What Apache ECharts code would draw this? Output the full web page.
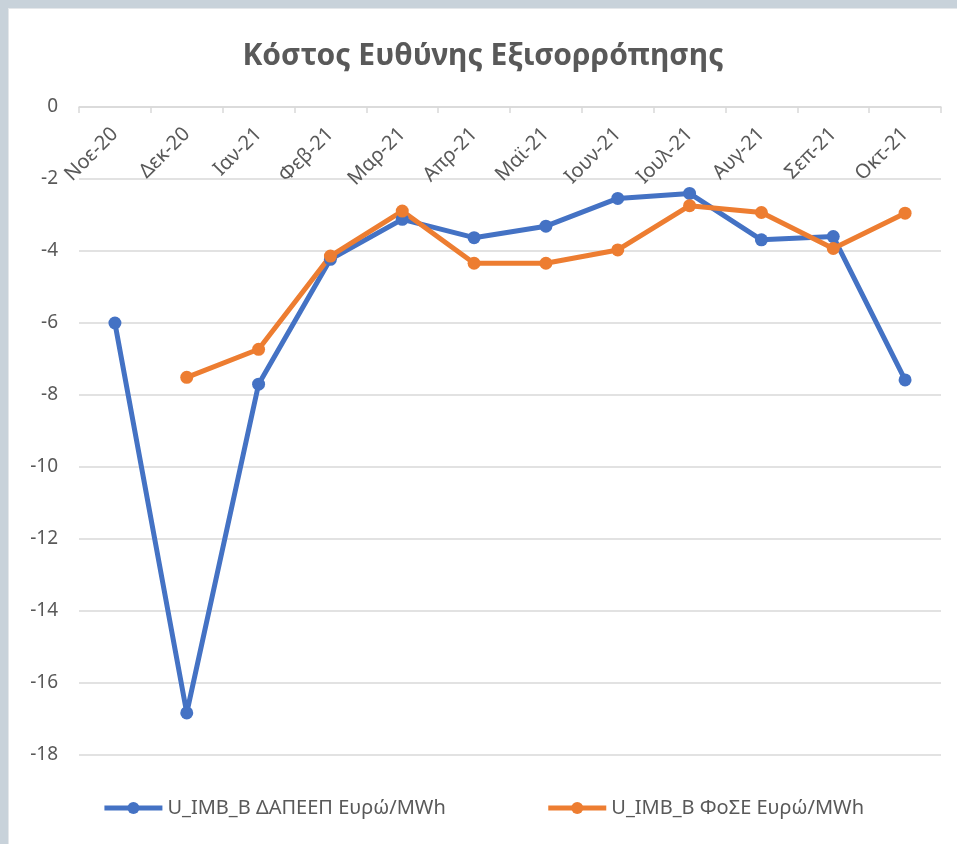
<!DOCTYPE html>
<html>
<head>
<meta charset="utf-8">
<script src="https://cdn.jsdelivr.net/npm/echarts@6/dist/echarts.min.js"></script>
<style>
  html, body { margin: 0; padding: 0; background: #c8d2da; }
  #chart {
    position: absolute; left: 9px; top: 9px;
    width: 948px; height: 835px;
    background: #ffffff;
    box-shadow: 0 0 0 1px #e4e7ea;
  }
</style>
</head>
<body>
<div id="chart"></div>
<script>
// μήνες
const months = ['Νοε-20', 'Δεκ-20', 'Ιαν-21', 'Φεβ-21', 'Μαρ-21', 'Απρ-21',
  'Μαϊ-21', 'Ιουν-21', 'Ιουλ-21', 'Αυγ-21', 'Σεπ-21', 'Οκτ-21'];

const seriesNames = ['U_IMB_B ΔΑΠΕΕΠ Ευρώ/MWh', 'U_IMB_B ΦοΣΕ Ευρώ/MWh'];

const dapeepValues = [-6.0, -16.83, -7.7, -4.23, -3.12, -3.63, -3.31, -2.54, -2.4, -3.69, -3.6, -7.58];
const foseValues = [null, -7.51, -6.73, -4.14, -2.89, -4.34, -4.34, -3.97, -2.74, -2.93, -3.93, -2.95];

const colors = ['#4472c4', '#ed7d31'];
const textColor = '#595959';
const fontFamily = '"Noto Sans", "Open Sans", sans-serif';

let chart = echarts.init(document.getElementById('chart'));

let makeSeries = (name, values, color) => {
  return {
    name: name,
    type: 'line',
    data: values,
    symbol: 'circle',
    symbolSize: 13,
    color: color,
    lineStyle: { width: 5, color: color },
    itemStyle: { color: color },
    connectNulls: false
  };
};

const option = {
  animation: false,
  textStyle: { fontFamily: fontFamily },
  title: {
    text: 'Κόστος Ευθύνης Εξισορρόπησης',
    left: 'center',
    top: 27,
    textStyle: {
      fontFamily: fontFamily,
      fontSize: 30,
      fontWeight: 'bold',
      color: textColor
    }
  },
  legend: {
    data: seriesNames,
    bottom: 21,
    left: 'center',
    itemWidth: 58,
    itemHeight: 15,
    itemGap: 100,
    lineStyle: { width: 5 },
    textStyle: { fontSize: 20, color: textColor, fontFamily: fontFamily }
  },
  grid: {
    left: 70,
    right: 16,
    top: 98,
    bottom: 89,
    containLabel: false
  },
  xAxis: {
    type: 'category',
    data: months,
    position: 'top',
    boundaryGap: true,
    axisLine: { show: true, lineStyle: { color: '#d9d9d9', width: 1.5 } },
    axisTick: { show: true, inside: true, length: 6, lineStyle: { color: '#d9d9d9', width: 1.5 } },
    axisLabel: {
      inside: true,
      rotate: 45,
      interval: 0,
      margin: 24,
      fontSize: 20,
      color: textColor,
      fontFamily: fontFamily
    },
    splitLine: { show: false }
  },
  yAxis: {
    type: 'value',
    min: -18,
    max: 0,
    interval: 2,
    axisLine: { show: false },
    axisTick: { show: false },
    axisLabel: {
      fontSize: 19,
      color: textColor,
      margin: 21,
      fontFamily: fontFamily
    },
    splitLine: { lineStyle: { color: '#d9d9d9', width: 1.5 } }
  },
  series: [
    makeSeries(seriesNames[0], dapeepValues, colors[0]),
    makeSeries(seriesNames[1], foseValues, colors[1])
  ]
};

chart.setOption(option);
</script>
</body>
</html>
